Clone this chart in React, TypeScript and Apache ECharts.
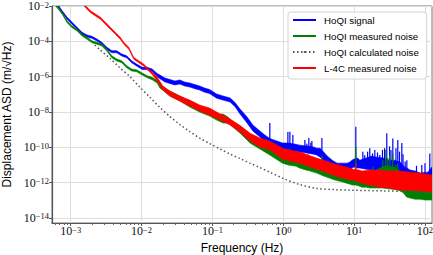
import React, { useEffect, useRef } from 'react';
import * as echarts from 'echarts';

// All values are log10: frequency in Hz, displacement ASD in m/sqrt(Hz)
// HoQI signal: frequency, upper and lower edge of the noisy trace
const blueLogF = [-3.21,-3.17,-3.12,-3.05,-2.98,-2.91,-2.84,-2.77,-2.70,-2.63,-2.56,-2.49,-2.42,-2.35,-2.28,-2.21,-2.14,-2.07,-1.99,-1.92,-1.85,-1.78,-1.74,-1.67,-1.60,-1.53,-1.46,-1.39,-1.32,-1.25,-1.18,-1.11,-1.04,-0.94,-0.85,-0.75,-0.68,-0.61,-0.51,-0.43,-0.33,-0.26,-0.19,-0.09,-0.01,0.07,0.16,0.23,0.33,0.43,0.47,0.52,0.57,0.62,0.69,0.76,0.83,0.90,0.94,0.97,1.00,1.05,1.08,1.17,1.25,1.32,1.41,1.49,1.57,1.65,1.70,1.79,1.86,1.93,2.04,2.10];
const blueUp = [-1.83,-1.98,-2.27,-2.64,-2.92,-3.21,-3.49,-3.64,-3.72,-3.87,-4.06,-4.34,-4.53,-4.53,-4.72,-4.82,-5.10,-5.29,-5.47,-5.47,-5.57,-5.82,-5.91,-6.08,-6.16,-6.25,-6.19,-6.31,-6.36,-6.45,-6.53,-6.65,-6.73,-6.99,-7.10,-7.21,-7.47,-7.84,-8.29,-8.74,-9.08,-9.31,-9.50,-9.65,-9.76,-9.76,-9.82,-9.88,-9.93,-9.99,-10.05,-10.05,-10.27,-10.50,-10.73,-10.90,-10.90,-10.90,-10.84,-10.73,-10.67,-10.61,-10.73,-10.61,-10.50,-10.56,-10.61,-10.73,-10.73,-10.84,-11.07,-11.29,-11.35,-11.46,-11.41,-11.12];
const blueLo = [-1.97,-2.10,-2.38,-2.75,-3.04,-3.32,-3.60,-3.76,-3.83,-3.98,-4.17,-4.45,-4.65,-4.65,-4.83,-4.93,-5.21,-5.40,-5.59,-5.59,-5.71,-5.99,-6.12,-6.30,-6.39,-6.47,-6.42,-6.53,-6.59,-6.68,-6.76,-6.88,-6.96,-7.22,-7.33,-7.44,-7.70,-8.12,-8.63,-9.08,-9.42,-9.71,-9.88,-10.05,-10.16,-10.16,-10.22,-10.27,-10.33,-10.39,-10.44,-10.56,-10.73,-10.95,-11.12,-11.29,-11.29,-11.29,-11.24,-11.18,-11.12,-11.18,-11.18,-11.24,-11.29,-11.29,-11.35,-11.41,-11.41,-11.52,-11.63,-11.75,-11.80,-11.86,-11.86,-11.86];
const blueSpikeF = [-0.19,0.065,0.093,0.135,0.305,0.333,0.361,0.389,0.404,0.545,1.024,1.123,1.15,1.19,1.221,1.26,1.292,1.33,1.362,1.40,1.43,1.461,1.50,1.52,1.546,1.59,1.616,1.64,1.673,1.69,1.72,1.744,1.88,1.955,2.00,2.068];
const blueSpikePeak = [-8.63,-9.14,-9.12,-9.31,-9.59,-9.80,-9.48,-9.75,-9.65,-9.48,-8.84,-10.26,-10.45,-10.25,-10.06,-10.35,-10.16,-10.30,-10.44,-10.15,-10.05,-9.21,-9.95,-10.15,-9.50,-10.05,-9.59,-10.25,-9.76,-10.40,-10.80,-10.73,-11.05,-11.01,-10.90,-10.35];

// HoQI measured noise
const greenLogF = [-3.21,-3.19,-3.12,-3.05,-2.98,-2.91,-2.84,-2.77,-2.70,-2.63,-2.56,-2.49,-2.42,-2.35,-2.28,-2.21,-2.14,-2.07,-1.99,-1.92,-1.85,-1.78,-1.74,-1.67,-1.60,-1.46,-1.32,-1.18,-1.04,-0.94,-0.85,-0.78,-0.71,-0.61,-0.47,-0.33,-0.19,-0.01,0.07,0.18,0.23,0.32,0.38,0.47,0.57,0.73,0.84,0.94,0.98,1.02,1.07,1.11,1.17,1.22,1.31,1.40,1.45,1.52,1.59,1.66,1.70,1.74,1.79,1.86,1.93,2.00,2.07,2.10];
const greenUp = [-1.89,-1.98,-2.36,-2.83,-3.12,-3.30,-3.59,-3.77,-3.97,-4.06,-4.15,-4.44,-4.82,-5.00,-5.10,-5.38,-5.57,-5.61,-5.80,-5.95,-6.04,-6.22,-6.48,-6.65,-6.82,-7.10,-7.38,-7.67,-7.84,-8.12,-8.12,-8.29,-8.57,-8.80,-9.25,-9.65,-9.88,-10.16,-10.30,-10.39,-10.44,-10.56,-10.61,-10.84,-10.95,-11.12,-11.29,-11.41,-11.46,-11.40,-11.52,-11.58,-11.41,-11.41,-11.29,-11.10,-11.05,-11.10,-11.15,-11.41,-11.58,-11.86,-12.09,-12.14,-12.20,-12.20,-12.14,-12.31];
const greenLo = [-2.03,-2.10,-2.47,-2.95,-3.23,-3.42,-3.70,-3.89,-4.08,-4.17,-4.27,-4.55,-4.93,-5.12,-5.21,-5.50,-5.68,-5.72,-5.91,-6.06,-6.18,-6.36,-6.65,-6.87,-7.10,-7.38,-7.72,-8.01,-8.23,-8.46,-8.63,-8.63,-8.86,-9.20,-9.76,-10.10,-10.44,-10.90,-11.01,-11.07,-11.18,-11.29,-11.35,-11.46,-11.63,-11.86,-11.97,-12.09,-12.14,-12.14,-12.20,-12.26,-12.26,-12.31,-12.31,-12.31,-12.34,-12.37,-12.40,-12.48,-12.60,-12.82,-12.88,-12.94,-12.94,-12.99,-12.99,-12.99];
const greenSpikeF = [0.065,0.093,0.135,0.347,0.545,1.024,1.264,1.405,1.447,1.475,1.503,1.546,1.588,1.616];
const greenSpikePeak = [-10.20,-10.07,-10.20,-10.40,-10.50,-9.97,-11.11,-10.73,-10.16,-10.61,-10.44,-10.35,-11.01,-10.90];

// HoQI calculated noise
const calcLogF = [-2.66,-2.59,-2.45,-2.31,-2.16,-2.02,-1.88,-1.74,-1.60,-1.46,-1.32,-1.18,-1.04,-0.89,-0.75,-0.61,-0.47,-0.33,-0.19,-0.01,0.23,0.47,0.73,0.94,1.41,1.79,2.10];
const calcAsd = [-4.21,-4.47,-4.95,-5.48,-6.02,-6.62,-7.18,-7.75,-8.26,-8.71,-9.11,-9.48,-9.79,-10.10,-10.39,-10.64,-10.90,-11.15,-11.41,-11.75,-12.11,-12.33,-12.40,-12.43,-12.47,-12.51,-12.58];

// L-4C measured noise
const redLogF = [-2.81,-2.79,-2.72,-2.65,-2.58,-2.51,-2.44,-2.37,-2.30,-2.25,-2.18,-2.11,-2.04,-1.97,-1.90,-1.85,-1.78,-1.70,-1.60,-1.46,-1.32,-1.18,-1.04,-0.89,-0.75,-0.61,-0.47,-0.33,-0.19,-0.01,0.09,0.23,0.35,0.47,0.60,0.73,0.84,0.94,0.98,1.02,1.07,1.11,1.22,1.36,1.50,1.65,1.79,1.93,2.10];
const redUp = [-1.89,-1.98,-2.27,-2.45,-2.64,-2.92,-3.21,-3.49,-3.77,-4.06,-4.34,-4.91,-5.10,-5.29,-5.57,-5.74,-6.02,-6.53,-6.82,-7.10,-7.33,-7.61,-7.78,-8.12,-8.40,-8.77,-9.20,-9.48,-9.65,-10.05,-10.16,-10.27,-10.44,-10.61,-10.78,-10.95,-11.07,-11.18,-11.24,-11.27,-11.29,-11.35,-11.29,-11.29,-11.35,-11.35,-11.41,-11.46,-11.58];
const redLo = [-2.00,-2.10,-2.38,-2.57,-2.75,-3.04,-3.32,-3.60,-3.89,-4.17,-4.45,-5.02,-5.21,-5.40,-5.68,-5.88,-6.25,-6.76,-7.10,-7.38,-7.67,-7.95,-8.18,-8.46,-8.74,-9.14,-9.65,-9.99,-10.16,-10.67,-10.78,-10.90,-11.07,-11.24,-11.41,-11.63,-11.75,-11.86,-11.86,-11.92,-11.97,-12.03,-12.14,-12.26,-12.31,-12.43,-12.43,-12.48,-12.54];
const redSpikeF = [1.024];
const redSpikePeak = [-10.90];

const xTickExp = [-3, -2, -1, 0, 1, 2];
const yTickExp = [-14, -12, -10, -8, -6, -4, -2];
const X_MIN = -3.264;
const X_MAX = 2.099;
const Y_MIN = -14.29;
const Y_MAX = -2;

const minorX: number[] = [];
for (let n = -4; n <= 2; n++) {
  for (let k = 2; k <= 9; k++) {
    const v = n + Math.log10(k);
    if (v > X_MIN && v < X_MAX) minorX.push(v);
  }
}

const expLabel = (v: number) => `{b|10}{s|${String(Math.round(v)).replace('-', '\u2212')}}`;

const labelRich = {
  b: { fontFamily: 'Liberation Serif', fontSize: 12, color: '#111', lineHeight: 12, verticalAlign: 'bottom' },
  s: { fontFamily: 'Liberation Serif', fontSize: 8.5, color: '#111', lineHeight: 8, verticalAlign: 'top' },
};

function interp(fs: number[], vs: number[], f: number) {
  if (f <= fs[0]) return vs[0];
  for (let i = 1; i < fs.length; i++) {
    if (f <= fs[i]) {
      const t = (f - fs[i - 1]) / (fs[i] - fs[i - 1]);
      return vs[i - 1] + t * (vs[i] - vs[i - 1]);
    }
  }
  return vs[vs.length - 1];
}

function band(name: string, color: string, f: number[], up: number[], lo: number[]) {
  const data = f.map((v, i) => [v, up[i], lo[i]]);
  return {
    type: 'custom',
    name,
    clip: true,
    data,
    encode: { x: 0, y: [1, 2] },
    itemStyle: { color },
    renderItem: (params: any, api: any) => {
      if (params.dataIndex !== 0) return null;
      const top = data.map((d) => api.coord([d[0], d[1]]));
      const bot = data.map((d) => api.coord([d[0], d[2]])).reverse();
      return {
        type: 'polygon',
        shape: { points: top.concat(bot) },
        style: { fill: color, stroke: color, lineWidth: 0.6 },
      };
    },
  };
}

function spikes(color: string, f: number[], peak: number[], envF: number[], envUp: number[]) {
  return {
    type: 'custom',
    clip: true,
    data: f.map((v, i) => [v, peak[i]]),
    encode: { x: 0, y: 1 },
    itemStyle: { color },
    renderItem: (params: any, api: any) => {
      const fx = api.value(0);
      const p = api.coord([fx, api.value(1)]);
      const b = api.coord([fx, interp(envF, envUp, fx) - 0.05]);
      return {
        type: 'line',
        shape: { x1: p[0], y1: p[1], x2: b[0], y2: b[1] },
        style: { stroke: color, lineWidth: 1.2 },
      };
    },
  };
}

export default function App() {
  const ref = useRef<HTMLDivElement>(null);
  useEffect(() => {
    if (!ref.current) return;
    const chart = echarts.init(ref.current, undefined, { renderer: 'svg' });
    chart.setOption({
      animation: false,
      backgroundColor: '#ffffff',
      grid: {
        left: 52, top: 6, width: 380, height: 217,
        show: true, borderColor: '#777', borderWidth: 1,
        outerBoundsMode: 'none', containLabel: false,
      },
      legend: {
        orient: 'vertical', left: 288, top: 12,
        itemWidth: 23, itemHeight: 2, itemGap: 4,
        padding: [2, 8, 5, 4],
        backgroundColor: 'rgba(255,255,255,0.85)', borderColor: '#d4d4d4', borderWidth: 1, borderRadius: 3,
        textStyle: { fontFamily: 'Liberation Sans', fontSize: 9.7, lineHeight: 12, color: '#000', padding: [0, 0, 0, 3] },
        data: [
          { name: 'HoQI signal', icon: 'rect' },
          { name: 'HoQI measured noise', icon: 'rect' },
          { name: 'HoQI calculated noise' },
          { name: 'L-4C measured noise', icon: 'rect' },
        ],
      },
      xAxis: [
        {
          type: 'value', min: X_MIN, max: X_MAX, position: 'bottom',
          name: 'Frequency (Hz)', nameLocation: 'middle', nameGap: 18,
          nameTextStyle: { fontFamily: 'Liberation Sans', fontSize: 12, color: '#000' },
          axisLine: { show: true, onZero: false, lineStyle: { color: '#555', width: 1.2 } },
          axisTick: { show: true, length: 3, customValues: xTickExp, lineStyle: { color: '#555' } },
          axisLabel: { customValues: xTickExp, formatter: expLabel, rich: labelRich, margin: 2 },
          splitLine: { show: true, lineStyle: { color: '#dedede', width: 1 } },
        },
        {
          type: 'value', min: X_MIN, max: X_MAX, position: 'bottom',
          axisLine: { show: false, onZero: false },
          axisTick: { show: true, length: 2, customValues: minorX, lineStyle: { color: '#666' } },
          axisLabel: { show: false },
          splitLine: { show: false },
        },
      ],
      yAxis: {
        type: 'value', min: Y_MIN, max: Y_MAX,
        name: 'Displacement ASD (m/\u221AHz)', nameLocation: 'middle', nameGap: 36, nameRotate: 90,
        nameTextStyle: { fontFamily: 'Liberation Sans', fontSize: 12, color: '#000' },
        axisLine: { show: true, onZero: false, lineStyle: { color: '#555', width: 1.2 } },
        axisTick: { show: true, length: 3, customValues: yTickExp, lineStyle: { color: '#555' } },
        axisLabel: { customValues: yTickExp, formatter: expLabel, rich: labelRich, margin: 3 },
        splitLine: { show: true, lineStyle: { color: '#dedede', width: 1 } },
      },
      series: [
        band('HoQI signal', '#0000ff', blueLogF, blueUp, blueLo),
        spikes('#0000ff', blueSpikeF, blueSpikePeak, blueLogF, blueUp),
        band('HoQI measured noise', '#008000', greenLogF, greenUp, greenLo),
        spikes('#008000', greenSpikeF, greenSpikePeak, greenLogF, greenUp),
        {
          type: 'line', name: 'HoQI calculated noise',
          data: calcLogF.map((f, i) => [f, calcAsd[i]]),
          symbol: 'none', showSymbol: false, smooth: 0.3,
          itemStyle: { color: '#555' },
          lineStyle: { color: '#555', width: 1.5, type: [1.5, 2.5] },
        },
        band('L-4C measured noise', '#ff0000', redLogF, redUp, redLo),
        spikes('#ff0000', redSpikeF, redSpikePeak, redLogF, redUp),
      ],
    });
    return () => chart.dispose();
  }, []);
  return <div ref={ref} style={{ position: 'fixed', left: 0, top: 0, width: 433, height: 255, background: '#fff' }} />;
}
